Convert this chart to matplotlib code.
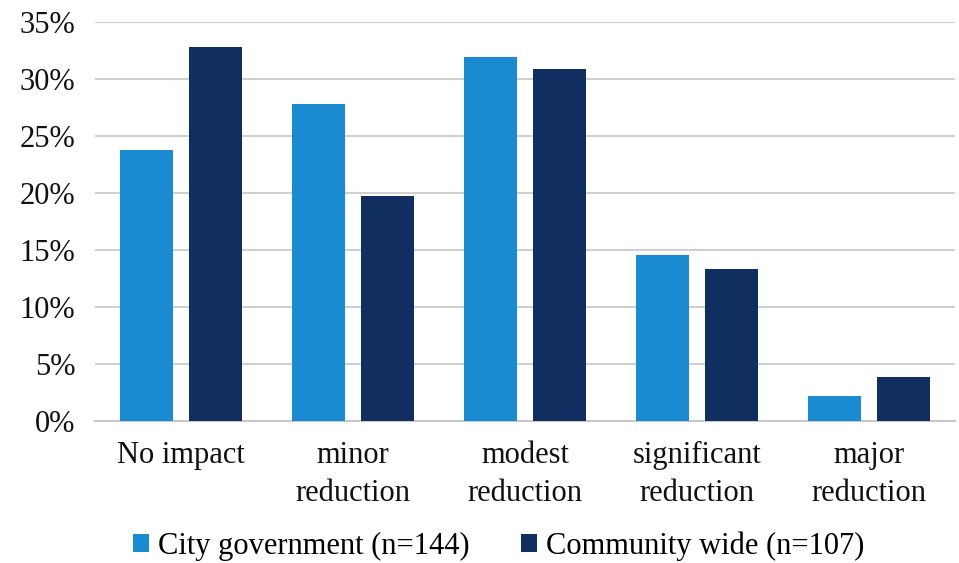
import numpy as np
import matplotlib.pyplot as plt
from matplotlib.ticker import PercentFormatter

# Категорії та значення (%)
categories = ["No impact", "minor\nreduction", "modest\nreduction",
              "significant\nreduction", "major\nreduction"]
city_gov = [23.8, 27.8, 31.9, 14.6, 2.2]
community = [32.8, 19.7, 30.9, 13.3, 3.9]
series_names = ["City government (n=144)", "Community wide (n=107)"]

plt.rcParams['font.family'] = ['Liberation Serif', 'DejaVu Serif']

fig = plt.figure(figsize=(9.59, 5.63), dpi=100)
ax = fig.add_axes([0.099, 0.252, 0.897, 0.709])

x = np.arange(len(categories))
w = 0.31
ax.bar(x - 0.2, city_gov, w, color='#1a8bd0', label=series_names[0], zorder=3)
ax.bar(x + 0.2, community, w, color='#102f60', label=series_names[1], zorder=3)

ax.set_xlim(-0.5, len(categories) - 0.5)
ax.set_ylim(0, 35)
ax.set_yticks(np.arange(0, 36, 5))
ax.yaxis.set_major_formatter(PercentFormatter(decimals=0))
ax.set_xticks(x)
ax.set_xticklabels(categories, linespacing=1.45)
ax.tick_params(axis='both', length=0, labelsize=22, colors='#111111')
ax.tick_params(axis='x', pad=14)
ax.tick_params(axis='y', pad=14)
ax.grid(axis='y', color='#d0d0d0', linewidth=1.5, zorder=0)

for s in ['top', 'right', 'left']:
    ax.spines[s].set_visible(False)
ax.spines['bottom'].set_color('#c8c8c8')
ax.spines['bottom'].set_linewidth(1.5)

fig.legend(loc='center', bbox_to_anchor=(0.52, 0.03), ncol=2, frameon=False,
           fontsize=22, handlelength=0.5, handleheight=0.5, handletextpad=0.3,
           columnspacing=1.7)

fig.savefig('out.png', dpi=100)
